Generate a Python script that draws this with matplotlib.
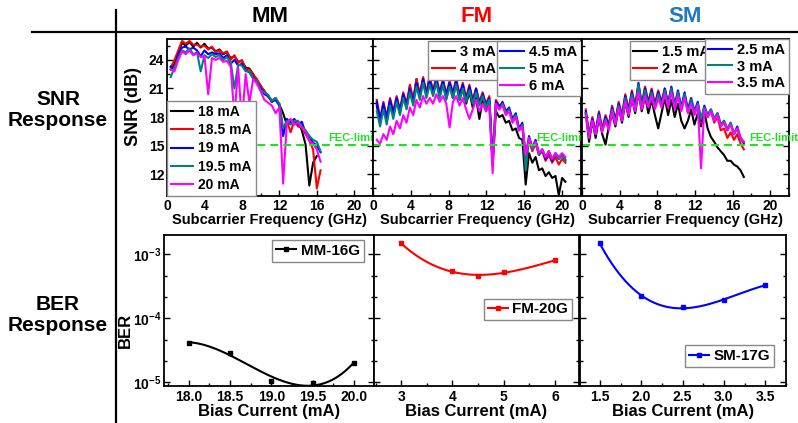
import numpy as np
import matplotlib
matplotlib.use('Agg')
import matplotlib.pyplot as plt
from matplotlib.lines import Line2D
from matplotlib.ticker import MultipleLocator, FixedLocator, NullFormatter

plt.rcParams.update({
    'font.family': ['Liberation Sans', 'DejaVu Sans'],
    'font.weight': 'bold', 'axes.labelweight': 'bold',
    'mathtext.fontset': 'custom', 'mathtext.rm': 'Liberation Sans:bold',
    'mathtext.bf': 'Liberation Sans:bold', 'mathtext.it': 'Liberation Sans:bold',
    'axes.linewidth': 1.3,
})

# ---------------- data ----------------
FEC_LIMIT = 15.1
COLORS = ['black', '#ff0000', '#0000ff', '#008080', '#ff00ff']

# MM: subcarrier frequencies 0.4 .. 16.4 GHz, step 0.4
mm_f0, mm_step = 0.4, 0.4
mm_labels = ['18 mA', '18.5 mA', '19 mA', '19.5 mA', '20 mA']
mm_18 = [23.0, 23.6, 24.8, 25.8, 25.5, 25.9, 25.4, 25.8, 25.3, 25.7,
         25.2, 25.3, 24.9, 25.1, 24.6, 24.8, 24.2, 24.4, 23.8, 23.9,
         23.2, 23.1, 22.5, 21.9, 21.3, 20.6, 20.3, 19.6, 20.0, 19.3,
         18.4, 17.2, 17.6, 17.3, 17.5, 16.6, 15.1, 10.8, 13.2, 13.9,
         np.nan]
mm_18p5 = [23.2, 24.0, 25.0, 26.0, 25.7, 26.0, 25.6, 25.6, 25.4, 25.5,
           25.1, 25.4, 24.8, 25.0, 24.7, 24.9, 24.0, 24.5, 23.7, 24.0,
           23.0, 23.0, 22.4, 22.0, 21.2, 20.8, 20.1, 19.8, 19.8, 19.4,
           16.5, 17.6, 16.4, 17.6, 17.0, 16.9, 16.2, 15.5, 14.6, 10.5,
           12.4]
mm_19 = [23.3, 23.0, 24.6, 25.3, 25.4, 25.1, 25.3, 25.0, 24.4, 25.0,
         24.6, 24.8, 24.6, 24.7, 24.2, 24.5, 23.6, 24.0, 23.4, 23.6,
         22.9, 22.7, 22.1, 21.7, 21.0, 20.4, 20.2, 19.6, 19.8, 19.2,
         16.0, 17.8, 17.4, 17.8, 17.2, 17.5, 16.3, 16.0, 15.3, 15.0,
         14.3]
mm_19p5 = [22.2, 23.2, 24.2, 25.0, 24.8, 25.2, 24.6, 24.8, 22.8, 24.5,
           24.2, 24.6, 24.3, 24.5, 24.0, 24.3, 23.8, 21.0, 23.5, 23.4,
           22.8, 22.8, 22.0, 21.8, 20.8, 20.6, 20.3, 19.7, 20.0, 19.4,
           16.8, 17.6, 17.2, 17.6, 17.6, 17.0, 16.6, 16.0, 15.6, 15.4,
           14.4]
mm_20 = [23.0, 22.8, 24.0, 24.9, 24.6, 25.0, 24.5, 24.7, 24.3, 24.4,
         20.4, 24.2, 24.0, 24.2, 23.8, 23.9, 23.3, 18.0, 23.2, 17.5,
         22.5, 19.5, 22.0, 21.5, 20.7, 19.8, 19.5, 19.2, 18.4, 19.0,
         11.0, 17.4, 17.8, 17.2, 17.4, 16.9, 16.4, 15.5, 15.2, 14.6,
         13.3]

# FM: subcarrier frequencies 0.4 .. 20.35 GHz, step 0.35
fm_f0, fm_step = 0.4, 0.35
fm_labels = ['3 mA', '4 mA', '4.5 mA', '5 mA', '6 mA']
fm_3 = [19.2, 17.4, 19.2, 17.6, 19.6, 18.2, 19.8, 18.4, 20.4, 19.0,
        21.2, 19.6, 22.0, 20.2, 22.0, 20.4, 22.4, 20.4, 21.8, 20.2,
        21.6, 20.0, 21.4, 20.0, 21.6, 19.8, 21.0, 19.4, 20.6, 19.0,
        20.0, 17.8, 19.8, 18.6, 19.6, 13.0, 18.6, 18.0, 18.2, 17.4,
        17.6, 16.6, 16.8, 15.8, 15.6, 10.9, 14.2, 13.2, 13.8, 12.4,
        12.6, 11.8, 12.2, 11.6, 11.8, 9.8, 11.6, 11.2]
fm_4 = [19.8, 17.8, 19.6, 18.0, 20.0, 18.6, 20.2, 18.8, 20.6, 19.4,
        21.4, 19.8, 22.0, 20.4, 22.2, 20.6, 22.0, 20.8, 22.2, 20.6,
        22.0, 20.4, 21.8, 20.6, 22.0, 20.4, 21.6, 20.0, 21.4, 19.8,
        21.0, 19.6, 20.6, 19.4, 20.2, 13.2, 19.8, 19.2, 19.4, 18.4,
        18.8, 17.6, 18.2, 16.6, 17.0, 13.2, 15.6, 14.4, 15.2, 14.0,
        14.4, 13.4, 14.0, 13.2, 13.8, 13.0, 13.6, 13.2]
fm_4p5 = [19.6, 17.6, 19.4, 17.8, 19.8, 18.4, 20.0, 18.6, 20.4, 19.2,
          21.0, 19.6, 21.6, 20.2, 22.0, 20.4, 21.8, 20.6, 22.0, 20.4,
          21.8, 20.2, 21.6, 20.4, 21.8, 20.2, 21.4, 19.8, 21.2, 19.6,
          21.0, 19.4, 20.4, 19.2, 20.0, 13.4, 19.6, 19.0, 19.6, 18.6,
          19.0, 17.8, 18.4, 16.8, 17.4, 13.8, 16.0, 14.8, 15.6, 14.2,
          14.6, 13.6, 14.4, 13.4, 14.2, 13.6, 14.0, 13.5]
fm_5 = [18.6, 17.0, 18.8, 17.2, 19.2, 17.8, 19.6, 18.2, 20.0, 18.8,
        20.6, 19.2, 21.2, 19.8, 21.6, 20.0, 21.4, 20.2, 21.6, 20.0,
        21.4, 19.8, 21.2, 20.0, 21.4, 19.8, 21.0, 19.6, 20.8, 19.4,
        20.6, 19.2, 20.2, 19.0, 19.8, 13.2, 19.4, 18.8, 19.4, 18.4,
        18.8, 17.6, 18.2, 16.6, 17.2, 12.4, 15.8, 14.6, 15.4, 14.0,
        14.6, 13.8, 14.4, 13.6, 14.2, 13.6, 14.0, 13.4]
fm_6 = [15.6, 15.2, 16.2, 15.6, 17.0, 16.2, 17.6, 16.8, 18.2, 17.4,
        19.0, 18.2, 19.8, 19.0, 20.2, 19.4, 20.0, 19.4, 20.4, 19.6,
        20.2, 19.4, 16.9, 19.6, 20.2, 19.2, 20.0, 18.8, 17.8, 18.8,
        19.8, 18.6, 19.4, 18.6, 19.2, 12.1, 19.4, 18.8, 19.2, 18.2,
        18.6, 17.4, 18.0, 16.6, 17.0, 14.0, 15.8, 14.8, 15.4, 14.2,
        14.6, 13.8, 14.4, 13.6, 14.2, 13.8, 14.2, 13.8]

# SM: subcarrier frequencies 0.4 .. 17.2 GHz, step 0.35
sm_f0, sm_step = 0.4, 0.35
sm_labels = ['1.5 mA', '2 mA', '2.5 mA', '3 mA', '3.5 mA']
sm_1p5 = [18.4, 15.4, 17.6, 15.8, 18.0, 16.2, 15.1, 17.0, 18.4, 17.0,
          19.0, 17.4, 19.6, 18.0, 20.0, 18.4, 20.6, 18.6, 20.2, 18.4,
          19.8, 18.2, 16.8, 18.4, 20.0, 18.2, 19.8, 18.0, 19.4, 17.6,
          16.8, 17.6, 18.8, 17.2, 18.4, 17.0, 18.6, 16.8, 15.9, 15.4,
          14.8, 14.4, 14.0, 13.4, 13.4, 13.0, 12.8, 12.4, 11.7]
sm_2 = [18.8, 16.2, 18.0, 16.4, 18.6, 16.8, 18.2, 17.2, 19.2, 17.6,
        19.6, 18.2, 20.4, 18.8, 20.8, 19.2, 21.4, 19.4, 21.2, 19.6,
        21.0, 19.4, 20.8, 19.6, 21.0, 19.4, 21.0, 19.2, 20.6, 18.8,
        20.4, 18.6, 19.8, 18.4, 19.4, 17.4, 19.0, 18.0, 18.6, 17.4,
        18.0, 16.6, 16.8, 15.8, 16.4, 15.6, 16.2, 15.2, 14.6]
sm_2p5 = [18.6, 16.0, 17.8, 16.4, 18.4, 16.6, 18.0, 17.0, 19.0, 17.6,
          19.4, 18.0, 20.2, 18.6, 20.6, 19.0, 21.6, 19.2, 21.0, 19.4,
          20.8, 19.2, 20.6, 19.4, 21.0, 19.4, 21.2, 19.2, 20.8, 19.0,
          20.6, 18.8, 20.0, 18.6, 19.6, 17.6, 19.2, 18.2, 18.8, 17.8,
          18.4, 17.2, 17.6, 16.6, 17.4, 16.2, 17.0, 15.8, 15.2]
sm_3 = [18.4, 16.0, 17.6, 16.2, 18.2, 16.6, 17.8, 16.8, 18.8, 17.4,
        19.2, 17.8, 20.0, 18.4, 20.4, 18.8, 21.4, 19.0, 20.8, 19.2,
        20.6, 19.0, 20.4, 19.2, 20.8, 19.2, 21.0, 19.0, 20.6, 18.8,
        20.4, 18.6, 19.8, 18.4, 19.4, 17.8, 19.0, 18.2, 18.8, 17.8,
        18.4, 17.2, 17.6, 16.8, 17.4, 16.2, 16.8, 15.8, 15.4]
sm_3p5 = [18.2, 15.8, 17.6, 16.2, 18.0, 16.4, 17.6, 16.6, 18.6, 17.2,
          19.0, 17.6, 19.6, 18.2, 20.0, 18.6, 20.6, 18.8, 20.2, 19.0,
          20.2, 18.8, 20.0, 19.0, 20.4, 19.0, 20.6, 18.8, 20.2, 18.6,
          20.0, 18.4, 19.4, 18.2, 19.2, 12.6, 18.8, 18.0, 18.6, 17.6,
          18.2, 17.0, 17.4, 16.6, 17.2, 16.2, 16.8, 15.8, 15.4]

# BER vs bias current
mm_bias = [18.0, 18.5, 19.0, 19.5, 20.0]
mm_ber = [4.1e-5, 2.9e-5, 1.05e-5, 9.8e-6, 2.0e-5]
fm_bias = [3.0, 4.0, 4.5, 5.0, 6.0]
fm_ber = [1.47e-3, 5.4e-4, 4.6e-4, 5.2e-4, 8.0e-4]
sm_bias = [1.5, 2.0, 2.5, 3.0, 3.5]
sm_ber = [1.47e-3, 2.2e-4, 1.5e-4, 1.9e-4, 3.3e-4]

# ---------------- figure ----------------
W, H = 798, 423
fig = plt.figure(figsize=(W / 100, H / 100), dpi=100)


def ax_px(l, r, t, b):
    return fig.add_axes([l / W, 1 - b / H, (r - l) / W, (b - t) / H])


def snr_panel(ax, f0, step, series, fec_x, first):
    for s, c in zip(series, COLORS):
        f = f0 + step * np.arange(len(s))
        ax.plot(f, s, color=c, lw=1.5)
    ax.axhline(FEC_LIMIT, color='#22e022', lw=1.5, dashes=(3.8, 2.4))
    ax.text(fec_x, 15.75, 'FEC-limit', color='#22e022', fontsize=8,
            fontweight='bold', va='center', ha='left', clip_on=False)
    ax.set_xlim(0, 22)
    ax.set_ylim(9.7, 26.2)
    ax.xaxis.set_major_locator(MultipleLocator(4))
    ax.xaxis.set_minor_locator(MultipleLocator(2))
    ax.yaxis.set_major_locator(MultipleLocator(3))
    ax.yaxis.set_minor_locator(MultipleLocator(1.5))
    ax.tick_params(which='both', direction='in', right=True, labelsize=10,
                   pad=2)
    ax.tick_params(which='major', length=4, width=1)
    ax.tick_params(which='minor', length=2.5, width=1)
    if not first:
        ax.set_yticklabels([])
    ax.set_xlabel('Subcarrier Frequency (GHz)', fontsize=10.5, labelpad=0)


def ber_panel(ax, x, y, color, label, xlim, major, minor, leg_loc, leg_anchor):
    lx = np.log10(y)
    coef = np.polyfit(x, lx, 3)
    xf = np.linspace(min(x), max(x), 200)
    ax.plot(xf, 10 ** np.polyval(coef, xf), color=color, lw=1.5)
    ax.plot(x, y, 's', color=color, ms=3, ls='none')
    ax.set_yscale('log')
    ax.set_ylim(10 ** -5.06, 10 ** -2.70)
    ax.set_xlim(*xlim)
    ax.xaxis.set_major_locator(MultipleLocator(major))
    ax.xaxis.set_minor_locator(MultipleLocator(minor))
    ax.yaxis.set_major_locator(FixedLocator([1e-5, 1e-4, 1e-3]))
    mins = [10 ** (e + d) for e in (-6, -5, -4, -3) for d in (1 / 3, 2 / 3)]
    ax.yaxis.set_minor_locator(FixedLocator(mins))
    ax.yaxis.set_minor_formatter(NullFormatter())
    ax.tick_params(which='both', direction='in', right=True, labelsize=10,
                   pad=3)
    ax.tick_params(which='major', length=4, width=1)
    ax.tick_params(which='minor', length=2.5, width=1)
    h = Line2D([], [], color=color, lw=1.5, marker='s', ms=3)
    leg = ax.legend([h], [label], loc=leg_loc, bbox_to_anchor=leg_anchor,
                    borderaxespad=0, fancybox=False, edgecolor='#888888',
                    framealpha=1, fontsize=11, handlelength=1.3,
                    handletextpad=0.3, borderpad=0.25)
    leg.get_frame().set_linewidth(1.0)
    ax.set_xlabel('Bias Current (mA)', fontsize=12, labelpad=0)


def leg(ax, idx, labels, lines, anchor, fs=10.5):
    l = ax.legend([lines[i] for i in idx], [labels[i] for i in idx],
                  loc='upper right', bbox_to_anchor=anchor, borderaxespad=0,
                  fancybox=False, edgecolor='#888888', framealpha=1,
                  fontsize=fs, handlelength=1.6, handletextpad=0.35,
                  borderpad=0.25, labelspacing=0.2)
    l.get_frame().set_linewidth(1.0)
    return l


# top row
ax1 = ax_px(167, 373, 39, 196)
snr_panel(ax1, mm_f0, mm_step, [mm_18, mm_18p5, mm_19, mm_19p5, mm_20],
          17.2, True)
ax2 = ax_px(373, 581, 39, 196)
snr_panel(ax2, fm_f0, fm_step, [fm_3, fm_4, fm_4p5, fm_5, fm_6], 17.3, False)
ax3 = ax_px(582, 789, 39, 196)
snr_panel(ax3, sm_f0, sm_step, [sm_1p5, sm_2, sm_2p5, sm_3, sm_3p5],
          17.8, False)

lines1 = ax1.get_lines()[:5]
l = ax1.legend(lines1, mm_labels, loc='lower left', bbox_to_anchor=(0, 0),
               borderaxespad=0, fancybox=False, edgecolor='#888888',
               framealpha=1, fontsize=10, handlelength=1.6,
               handletextpad=0.35, borderpad=0.3, labelspacing=0.3)
l.get_frame().set_linewidth(1.0)

lines2 = ax2.get_lines()[:5]
la = leg(ax2, [0, 1], fm_labels, lines2, (0.61, 0.985))
ax2.add_artist(la)
leg(ax2, [2, 3, 4], fm_labels, lines2, (0.998, 0.985))

lines3 = ax3.get_lines()[:5]
lb = leg(ax3, [0, 1], sm_labels, lines3, (0.635, 0.985))
ax3.add_artist(lb)
leg(ax3, [2, 3, 4], sm_labels, lines3, (0.998, 1.0))

# bottom row
bx1 = ax_px(164, 374, 235, 386)
ber_panel(bx1, mm_bias, mm_ber, 'black', 'MM-16G', (17.7, 20.24), 0.5, 0.25,
          'upper right', (0.95, 0.967))
bx1.set_yticks([1e-5, 1e-4, 1e-3])
bx1.set_yticklabels([r'$\mathbf{10^{-5}}$', r'$\mathbf{10^{-4}}$',
                     r'$\mathbf{10^{-3}}$'])
bx1.tick_params(axis='y', labelsize=10, pad=2)
bx1.set_xticks([18.0, 18.5, 19.0, 19.5, 20.0])
bx1.set_xticklabels(['18.0', '18.5', '19.0', '19.5', '20.0'])
bx2 = ax_px(374, 579, 235, 386)
ber_panel(bx2, fm_bias, fm_ber, '#ff0000', 'FM-20G', (2.47, 6.47), 1, 0.5,
          'center right', (0.966, 0.507))
bx2.set_yticklabels([])
bx3 = ax_px(580, 786, 235, 386)
ber_panel(bx3, sm_bias, sm_ber, '#0000ff', 'SM-17G', (1.26, 3.75), 0.5, 0.25,
          'lower right', (0.942, 0.126))
bx3.set_yticklabels([])
bx3.set_xticks([1.5, 2.0, 2.5, 3.0, 3.5])
bx3.set_xticklabels(['1.5', '2.0', '2.5', '3.0', '3.5'])

# figure-level decorations
fig.add_artist(Line2D([116 / W, 116 / W], [1 - 10 / H, 0], color='black',
                      lw=1.6, transform=fig.transFigure))
fig.add_artist(Line2D([32 / W, 1], [1 - 32 / H, 1 - 32 / H], color='black',
                      lw=1.6, transform=fig.transFigure))
fig.text(270 / W, 1 - 17 / H, 'MM', color='black', fontsize=16,
         fontweight='bold', ha='center', va='center')
fig.text(477 / W, 1 - 17 / H, 'FM', color='#ff0000', fontsize=16,
         fontweight='bold', ha='center', va='center')
fig.text(685 / W, 1 - 17 / H, 'SM', color='#1f78c4', fontsize=16,
         fontweight='bold', ha='center', va='center')
fig.text(58 / W, 1 - 110 / H, 'SNR\nResponse', fontsize=15,
         fontweight='bold', ha='center', va='center', linespacing=1.15)
fig.text(58 / W, 1 - 315 / H, 'BER\nResponse', fontsize=15,
         fontweight='bold', ha='center', va='center', linespacing=1.15)
fig.text(133 / W, 1 - 106 / H, 'SNR (dB)', fontsize=13, fontweight='bold',
         rotation=90, ha='center', va='center')
fig.text(125 / W, 1 - 330 / H, 'BER', fontsize=12, fontweight='bold',
         rotation=90, ha='center', va='center')

fig.savefig('out.png', dpi=100)
